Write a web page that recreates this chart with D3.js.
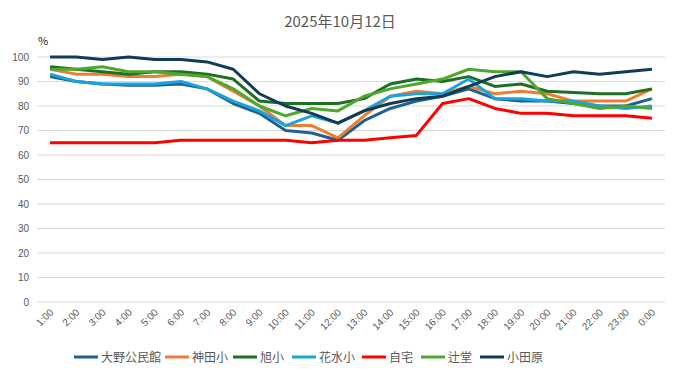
<!DOCTYPE html>
<html>
<head>
<meta charset="utf-8">
<script src="https://cdn.jsdelivr.net/npm/d3@7"></script>
<style>
  body { margin: 0; background: #fff; }
  svg { font-family: "Noto Sans CJK JP", "Liberation Sans", sans-serif; }
</style>
</head>
<body>
<div id="chart"></div>
<script>
// hours on the x axis
var hours = ["1:00","2:00","3:00","4:00","5:00","6:00","7:00","8:00","9:00","10:00","11:00","12:00",
    "13:00","14:00","15:00","16:00","17:00","18:00","19:00","20:00","21:00","22:00","23:00","0:00"];

var yTicks = [0,10,20,30,40,50,60,70,80,90,100];

var seriesNames = ["大野公民館","神田小","旭小","花水小","自宅","辻堂","小田原"];
var seriesColors = ["#1f6190","#ed7d31","#1e6f24","#1aa3dc","#ff0000","#4ea72e","#103c56"];

// humidity values (%)
var ohno   = [92,90,89,88.5,88.5,89,87,81,77,70,69,66,74,79,82,84,87,83,82,82,81,80,80,83];
var kanda  = [95,93,93,92,92,93,92,86,80,72,72,67,76,84,86,85,88,85,86,85,82,82,82,87];
var asahi  = [96,95,94,93,94,94,93,91,82,81,81,81,83,89,91,90,92,88,89,86,85.5,85,85,87];
var hanami = [93,90,89,89,89,90,87,82,78,72,76,73,78,84,85,85,91,83,83,82,82,80,79,80];
var jitaku = [65,65,65,65,65,66,66,66,66,66,65,66,66,67,68,81,83,79,77,77,76,76,76,75];
var tsuji  = [95,95,96,94,94,93,92,87,80,76,79,78,84,87,89,91,95,94,94,83,81,79,80,79];
var odawara = [100,100,99,100,99,99,98,95,85,80,77,73,78,81,83,84,88,92,94,92,94,93,94,95];

var allSeries = [ohno, kanda, asahi, hanami, jitaku, tsuji, odawara];

var W = 681, H = 379;
var plotL = 37, plotR = 665, plotT = 57, plotB = 302;
var grey = "#595959";

var svg = d3.select("#chart").append("svg")
    .attr("width", W)
    .attr("height", H);

var x = d3.scaleBand().domain(hours).range([plotL, plotR]);
var y = d3.scaleLinear().domain([0, 100]).range([plotB, plotT]);

// title
svg.append("text")
    .attr("x", 340)
    .attr("y", 27)
    .attr("text-anchor", "middle")
    .style("font-size", "15px")
    .style("fill", grey)
    .text("2025年10月12日");

svg.append("text")
    .attr("x", 38)
    .attr("y", 45)
    .style("font-size", "11px")
    .style("fill", "#222")
    .text("%");

// grid lines
svg.selectAll(".grid").data(yTicks).enter()
    .append("line")
    .attr("class", "grid")
    .attr("x1", plotL)
    .attr("x2", plotR)
    .attr("y1", function(d){ return y(d); })
    .attr("y2", function(d){ return y(d); })
    .style("stroke", "#d9d9d9")
    .style("stroke-width", 1);

// y tick labels
svg.selectAll(".ylab").data(yTicks).enter()
    .append("text")
    .attr("class", "ylab")
    .attr("x", 29)
    .attr("y", function(d){ return y(d) + 3.5; })
    .attr("text-anchor", "end")
    .style("font-size", "10px")
    .style("font-family", "Liberation Sans, sans-serif")
    .style("fill", grey)
    .text(function(d){ return d; });

// x tick labels, rotated
svg.selectAll(".xlab").data(hours).enter()
    .append("text")
    .attr("class", "xlab")
    .attr("transform", function(d){
        var cx = x(d) + x.bandwidth() / 2 + 4;
        return "translate(" + cx + ",313) rotate(-45)";
    })
    .attr("text-anchor", "end")
    .style("font-size", "10px")
    .style("font-family", "Liberation Sans, sans-serif")
    .style("fill", grey)
    .text(function(d){ return d; });

var line = d3.line()
    .x(function(d, i){ return x(hours[i]) + x.bandwidth() / 2; })
    .y(function(d){ return y(d); });

svg.selectAll(".series").data(allSeries).enter()
    .append("path")
    .attr("class", "series")
    .attr("d", line)
    .style("fill", "none")
    .style("stroke", function(d, i){ return seriesColors[i]; })
    .style("stroke-width", 3)
    .style("stroke-linejoin", "round");

// legend
var legendX = [74, 165, 233, 292, 362, 421, 480];
var legend = svg.selectAll(".legend").data(seriesNames).enter()
    .append("g")
    .attr("class", "legend")
    .attr("transform", function(d, i){ return "translate(" + legendX[i] + ",357)"; });

legend.append("line")
    .attr("x1", 0)
    .attr("x2", 24)
    .style("stroke", function(d, i){ return seriesColors[i]; })
    .style("stroke-width", 3);

legend.append("text")
    .attr("x", 27)
    .attr("y", 4.5)
    .style("font-size", "12px")
    .style("fill", grey)
    .text(function(d){ return d; });
</script>
</body>
</html>
